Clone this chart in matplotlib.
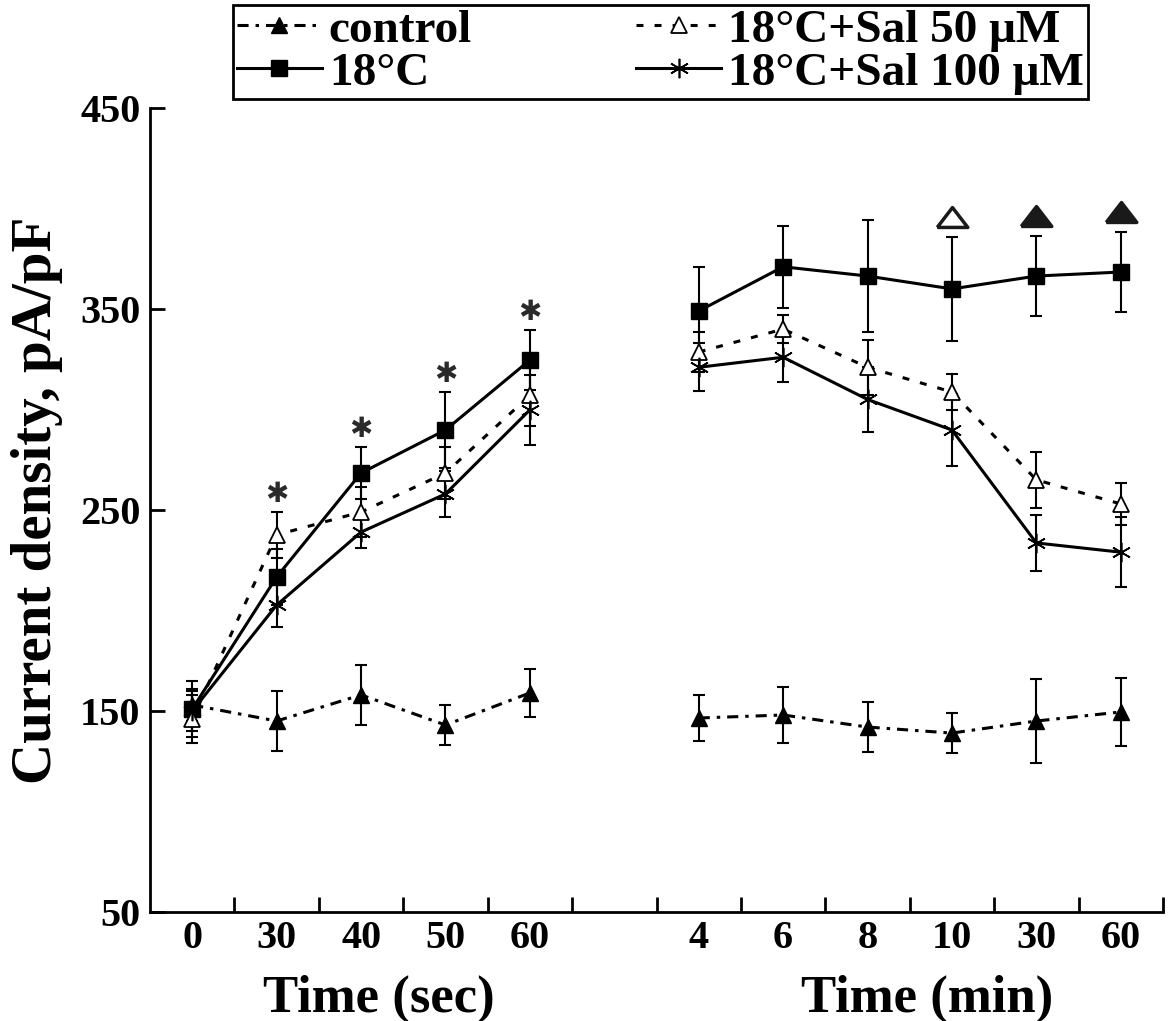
import numpy as np
import matplotlib.pyplot as plt

plt.rcParams['font.family'] = ['Liberation Serif', 'DejaVu Serif']
plt.rcParams['font.weight'] = 'bold'
plt.rcParams['lines.scale_dashes'] = False

# x categories (two time blocks)
sec_labels = ['0', '30', '40', '50', '60']
min_labels = ['4', '6', '8', '10', '30', '60']

# current density, pA/pF (mean and error)
control_sec = [153, 145, 158, 143, 159]
control_sec_err = [8, 15, 15, 10, 12]
control_min = [146.5, 148, 142, 139, 145, 149.5]
control_min_err = [11.5, 14, 12.5, 10, 21, 17]

cold_sec = [151, 216.7, 268.4, 289.8, 324.6]
cold_sec_err = [14, 14, 13, 19, 15]
cold_min = [349, 371, 366.4, 360, 366.4, 368.4]
cold_min_err = [22, 20.5, 28, 26, 20, 20]

sal50_sec = [146, 237.6, 249, 268.4, 307]
sal50_sec_err = [12, 11.5, 12.4, 13, 15]
sal50_min = [328.6, 340, 321, 308.7, 265, 253]
sal50_min_err = [10, 7, 13.6, 9, 14, 10.5]

sal100_sec = [150, 202.7, 239, 258, 299.8]
sal100_sec_err = [10, 11, 8, 11.5, 17.5]
sal100_min = [321, 326, 305, 289.8, 233.6, 229]
sal100_min_err = [12, 12.5, 16, 18, 14, 17.5]

# significance marks
star_idx = [1, 2, 3, 4]                       # '*' over sec points
tri_marks = {3: 'open', 4: 'filled', 5: 'filled'}  # triangles over min points

x_sec = np.arange(len(sec_labels)) + 0.5
x_min = np.arange(len(min_labels)) + len(sec_labels) + 1.5

fig = plt.figure(figsize=(11.74, 10.21), dpi=100)
ax = fig.add_axes([0.1278, 0.1068, 0.8628, 0.7874])

series = [
    ('control', control_sec, control_sec_err, control_min, control_min_err,
     dict(marker='^', ms=12, mfc='black', mec='black', dashes=(8, 5, 2.5, 5))),
    ('18°C', cold_sec, cold_sec_err, cold_min, cold_min_err,
     dict(marker='s', ms=11.5, mfc='black', mec='black', ls='-')),
    ('18°C+Sal 50 μM', sal50_sec, sal50_sec_err, sal50_min, sal50_min_err,
     dict(marker='^', ms=12, mfc='white', mec='black', mew=1.3, dashes=(5, 8))),
    ('18°C+Sal 100 μM', sal100_sec, sal100_sec_err, sal100_min, sal100_min_err,
     dict(marker=(6, 2, 0), ms=14, mfc='none', mec='black', mew=1.2, ls='-')),
]

handles = []
for name, ys, es, ym, em, style in series:
    for xx, yy, ee in ((x_sec, ys, es), (x_min, ym, em)):
        ax.errorbar(xx, yy, yerr=ee, fmt='none', ecolor='black',
                    elinewidth=1.5, capsize=4, capthick=1.5, zorder=2)
    h, = ax.plot(x_sec, ys, color='black', lw=2.2, zorder=3, label=name, **style)
    ax.plot(x_min, ym, color='black', lw=2.2, zorder=3, **style)
    handles.append(h)

# annotation positions from the highest error bar at each time
all_sec = np.array([s[1] for s in series]) + np.array([s[2] for s in series])
all_min = np.array([s[3] for s in series]) + np.array([s[4] for s in series])
for i in star_idx:
    ax.text(x_sec[i], all_sec[:, i].max() + 9, '\u2731', family='DejaVu Sans',
            fontsize=20, color='#2a2a2a', ha='center', va='center')
tri_path = [(-1, -0.65), (1, -0.65), (0, 0.65), (-1, -0.65)]
for i, kind in tri_marks.items():
    fc = 'white' if kind == 'open' else '#1a1a1a'
    ax.plot(x_min[i], all_min[:, i].max() + 10, marker=tri_path, ms=22,
            mfc=fc, mec='#1a1a1a', mew=2.5, ls='none')

ax.set_xlim(0, 12)
ax.set_ylim(50, 450)
ax.spines['top'].set_visible(False)
ax.spines['right'].set_visible(False)
for s in ('left', 'bottom'):
    ax.spines[s].set_linewidth(2)

ax.set_yticks([50, 150, 250, 350, 450])
ax.tick_params(axis='y', direction='in', length=11, width=2, labelsize=29, pad=7)
ax.set_xticks(np.concatenate([x_sec, x_min]), sec_labels + min_labels)
ax.set_xticks(np.arange(1, 13), minor=True)
ax.tick_params(axis='x', which='major', length=0, labelsize=29, pad=6)
ax.tick_params(axis='x', which='minor', direction='in', length=11, width=2)

ax.set_ylabel('Current density, pA/pF', fontsize=41, fontweight='bold')
ax.yaxis.set_label_coords(-0.086, 0.512)
ax.text(0.226, -0.124, 'Time (sec)', transform=ax.transAxes, fontsize=38,
        ha='center', va='baseline')
ax.text(0.767, -0.124, 'Time (min)', transform=ax.transAxes, fontsize=38,
        ha='center', va='baseline')

leg = fig.legend(handles, [s[0] for s in series], ncol=2, loc='upper left',
                 bbox_to_anchor=(233 / 1174, 0.995, 855 / 1174, 0.0),
                 mode='expand', fontsize=34, numpoints=1,
                 frameon=True, fancybox=False, edgecolor='black', framealpha=1,
                 borderpad=0.08, handlelength=1.8, handletextpad=0.15,
                 columnspacing=2.0, labelspacing=0.0, borderaxespad=0)
leg.get_frame().set_linewidth(2)

fig.savefig('out.png', dpi=100)
